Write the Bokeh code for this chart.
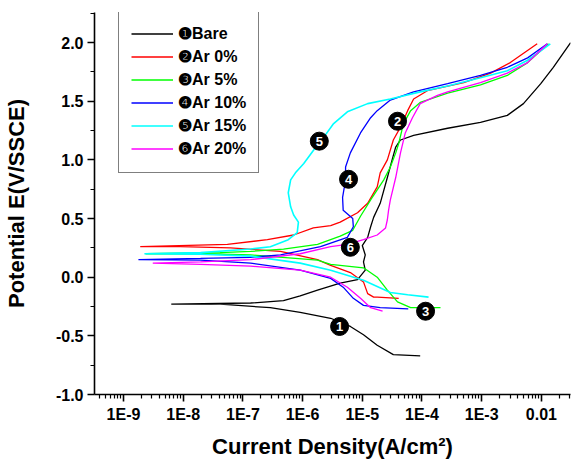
import numpy as np
from bokeh.plotting import figure
from bokeh.models import (Range1d, FixedTicker, CustomJSTickFormatter, NumeralTickFormatter,
                          Legend, LegendItem, ColumnDataSource)
from bokeh.core.properties import value
from bokeh.embed import file_html
from bokeh.resources import INLINE

FONT = "Liberation Sans"

# ---- data: log10(current density, A/cm2) and potential (V vs SSCE) ----
bare_logi = [-4.03, -4.48, -4.75, -4.98, -5.20, -5.53, -6.04, -6.54, -7.38, -8.20,
             -6.87, -6.32, -6.04, -5.75, -5.37, -5.08, -4.95, -4.98, -4.95, -5.00,
             -4.91, -4.86, -4.81, -4.70, -4.58, -4.49, -4.44, -4.36, -4.14, -3.57,
             -3.02, -2.57, -2.30, -2.01, -1.80, -1.51]
bare_e = [-0.67, -0.66, -0.58, -0.49, -0.42, -0.35, -0.30, -0.26, -0.23, -0.23,
          -0.22, -0.20, -0.16, -0.11, -0.05, -0.02, 0.06, 0.13, 0.19, 0.27,
          0.34, 0.43, 0.51, 0.63, 0.85, 1.02, 1.11, 1.17, 1.21, 1.27,
          1.32, 1.38, 1.48, 1.65, 1.79, 2.00]

ar0_logi = [-4.39, -4.75, -4.81, -4.91, -4.98, -5.20, -5.53, -5.75, -6.37, -7.21, -8.05, -8.72,
            -7.26, -6.59, -6.15, -5.82, -5.53, -5.37, -5.08, -4.91, -4.75, -4.70, -4.58,
            -4.48, -4.36, -4.24, -4.14, -3.91, -3.30, -2.85, -2.52, -2.07]
ar0_e = [-0.18, -0.17, -0.17, -0.14, -0.04, 0.04, 0.10, 0.15, 0.22, 0.25, 0.26, 0.26,
         0.28, 0.32, 0.36, 0.42, 0.44, 0.47, 0.55, 0.63, 0.77, 0.89, 1.00,
         1.17, 1.28, 1.42, 1.52, 1.59, 1.66, 1.74, 1.83, 1.99]

ar5_logi = [-3.69, -4.19, -4.41, -4.58, -4.75, -4.98, -5.53, -5.75, -6.87, -7.71, -8.63,
            -7.38, -6.87, -6.32, -5.75, -5.37, -5.16, -5.03, -4.86, -4.64, -4.53, -4.44,
            -4.39, -4.31, -4.19, -4.03, -3.57, -3.02, -2.57, -2.23, -1.88]
ar5_e = [-0.26, -0.26, -0.21, -0.11, 0.00, 0.08, 0.11, 0.145, 0.19, 0.20, 0.20,
         0.21, 0.22, 0.24, 0.28, 0.35, 0.40, 0.52, 0.66, 0.83, 0.94, 1.06,
         1.14, 1.31, 1.42, 1.49, 1.57, 1.64, 1.72, 1.83, 1.99]

ar10_logi = [-4.23, -4.70, -4.98, -5.15, -5.32, -5.53, -6.04, -6.87, -7.71, -8.75,
             -7.71, -6.87, -6.37, -5.70, -5.25, -5.15, -5.16, -5.32, -5.33, -5.28, -5.28,
             -5.20, -5.03, -4.86, -4.75, -4.53, -4.14, -3.57, -3.02, -2.57, -2.23, -1.90]
ar10_e = [-0.27, -0.26, -0.24, -0.18, -0.085, -0.01, 0.06, 0.12, 0.145, 0.15,
          0.16, 0.17, 0.19, 0.26, 0.34, 0.43, 0.50, 0.57, 0.68, 0.83, 0.94,
          1.06, 1.23, 1.36, 1.42, 1.51, 1.58, 1.65, 1.72, 1.79, 1.87, 1.99]

ar15_logi = [-3.89, -4.24, -4.53, -4.98, -5.53, -6.04, -6.87, -7.71, -8.65,
             -7.71, -6.87, -6.54, -6.24, -6.09, -6.07, -6.15, -6.20, -6.24, -6.20, -6.12,
             -5.98, -5.82, -5.65, -5.48, -5.25, -4.91, -4.53, -4.03, -3.57, -3.02, -2.57,
             -2.23, -1.85]
ar15_e = [-0.17, -0.15, -0.13, -0.026, 0.06, 0.12, 0.18, 0.196, 0.20,
          0.21, 0.24, 0.26, 0.32, 0.38, 0.47, 0.53, 0.60, 0.72, 0.83, 0.89,
          0.97, 1.08, 1.19, 1.31, 1.41, 1.48, 1.52, 1.58, 1.63, 1.70, 1.76,
          1.85, 1.99]

ar20_logi = [-4.66, -4.86, -5.03, -5.25, -5.53, -6.04, -6.87, -7.71, -8.51,
             -7.71, -6.87, -6.04, -5.53, -5.25, -4.98, -4.75, -4.61, -4.58, -4.56, -4.53,
             -4.44, -4.36, -4.28, -4.16, -4.03, -3.74, -3.57, -3.02, -2.57, -2.23, -1.90]
ar20_e = [-0.29, -0.26, -0.18, -0.085, 0.00, 0.06, 0.094, 0.11, 0.12,
          0.13, 0.15, 0.20, 0.26, 0.28, 0.32, 0.36, 0.42, 0.49, 0.57, 0.66,
          0.85, 1.06, 1.23, 1.36, 1.48, 1.55, 1.58, 1.66, 1.74, 1.83, 1.99]

series_labels = ["\u2776Bare", "\u2777Ar 0%", "\u2778Ar 5%", "\u2779Ar 10%", "\u277AAr 15%", "\u277BAr 20%"]
series_colors = ["#000000", "#FF0000", "#00FF00", "#0000FF", "#00FFFF", "#FF00FF"]
series_logi = [bare_logi, ar0_logi, ar5_logi, ar10_logi, ar15_logi, ar20_logi]
series_e = [bare_e, ar0_e, ar5_e, ar10_e, ar15_e, ar20_e]

# numbered callouts on the curves
marker_logi = [-5.38, -4.41, -3.94, -5.23, -5.72, -5.20]
marker_e = [-0.42, 1.33, -0.29, 0.835, 1.16, 0.255]
marker_text = ["1", "2", "3", "4", "5", "6"]

x_tick_exps = [-9, -8, -7, -6, -5, -4, -3, -2]
y_ticks = [-1.0, -0.5, 0.0, 0.5, 1.0, 1.5, 2.0]
y_minor = [-0.75, -0.25, 0.25, 0.75, 1.25, 1.75, 2.25]

# ---- figure ----
p = figure(width=571, height=461, x_axis_type="log",
           x_range=Range1d(10 ** -9.486, 10 ** -1.512),
           y_range=Range1d(-1.0, 2.257),
           output_backend="svg", toolbar_location=None,
           min_border_left=94, min_border_right=1, min_border_top=12, min_border_bottom=67,
           background_fill_color="white", border_fill_color="white")
p.outline_line_color = None
p.grid.visible = False

x_major = [10.0 ** e for e in x_tick_exps]
x_minor = [k * 10.0 ** e for e in range(-10, -1) for k in range(2, 10)]
p.xaxis.ticker = FixedTicker(ticks=x_major, minor_ticks=x_minor)
p.xaxis.formatter = CustomJSTickFormatter(code="""
const e = Math.round(Math.log10(tick));
if (e >= -2) { return Math.pow(10, e).toFixed(-e); }
return "1E" + e;
""")
p.yaxis.ticker = FixedTicker(ticks=y_ticks, minor_ticks=y_minor)
p.yaxis.formatter = NumeralTickFormatter(format="0.0")

for ax in (p.xaxis[0], p.yaxis[0]):
    ax.axis_line_width = 1.6
    ax.axis_line_color = "black"
    ax.major_tick_line_width = 1.6
    ax.minor_tick_line_width = 1.2
    ax.major_tick_in = 0
    ax.major_tick_out = 7
    ax.minor_tick_in = 0
    ax.minor_tick_out = 4
    ax.major_label_text_font = FONT
    ax.major_label_text_font_size = "16px"
    ax.major_label_text_font_style = "bold"
    ax.major_label_text_color = "black"
    ax.major_label_standoff = 4
    ax.axis_label_text_font = FONT
    ax.axis_label_text_font_size = "22px"
    ax.axis_label_text_font_style = "bold"
    ax.axis_label_text_color = "black"

p.xaxis.axis_label = "Current Density(A/cm\u00b2)"
p.xaxis.axis_label_standoff = 8
p.yaxis.axis_label = "Potential E(V/SSCE)"
p.yaxis.axis_label_standoff = 24

items = []
for lab, col, li, ev in zip(series_labels, series_colors, series_logi, series_e):
    src = ColumnDataSource(dict(x=10.0 ** np.array(li), y=ev))
    width = 1.6 if col == "#00FFFF" else 1.3
    r = p.line("x", "y", source=src, line_color=col, line_width=width)
    items.append(LegendItem(label=lab, renderers=[r]))

msrc = ColumnDataSource(dict(x=10.0 ** np.array(marker_logi), y=marker_e, t=marker_text))
p.scatter("x", "y", source=msrc, size=18, fill_color="black", line_color="black")
p.text("x", "y", text="t", source=msrc, text_color="white", text_align="center",
       text_baseline="middle", text_font=value(FONT), text_font_style="bold",
       text_font_size="13px")

legend = Legend(items=items, location=(24, 221))
legend.label_text_font = FONT
legend.label_text_font_size = "16px"
legend.label_text_font_style = "bold"
legend.label_text_color = "black"
legend.border_line_color = "black"
legend.border_line_width = 1.3
legend.background_fill_color = "white"
legend.background_fill_alpha = 1.0
legend.padding = 12
legend.spacing = 0
legend.label_height = 23
legend.glyph_height = 23
legend.glyph_width = 42
legend.label_standoff = 5
legend.margin = 0
p.add_layout(legend)

open("out.html", "w").write(file_html(p, INLINE))
